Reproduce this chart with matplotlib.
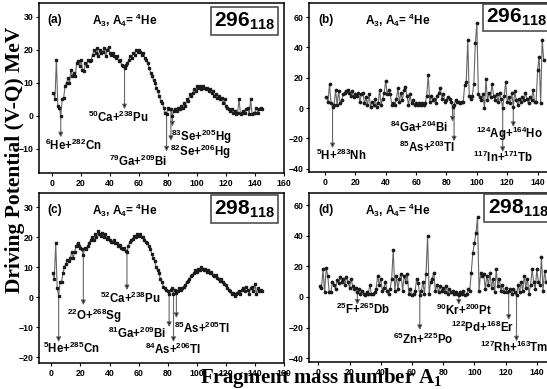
import matplotlib
matplotlib.use('Agg')
import matplotlib.pyplot as plt
import numpy as np

plt.rcParams['font.family'] = ['Liberation Sans', 'DejaVu Sans']
plt.rcParams['font.weight'] = 'bold'
plt.rcParams['mathtext.default'] = 'regular'

# --- data ---
# (a) 296_118
pot_a = [7, 5, 17, 3, 2.5, 0, 5, 5.5, 9, 10, 11.5, 10, 14, 12, 13, 12, 16, 16.5, 15, 17,
         14, 13.5, 16, 15, 17, 16.5, 17, 18.5, 20, 19, 20.5, 18, 20, 19, 19.5, 20.5, 18, 20, 21, 19,
         18.5, 19, 18, 17.5, 18, 16.5, 17, 15.5, 15, 14.5, 15.5, 16, 17, 18, 17.5, 19, 18.5, 20, 19.5, 20,
         19.5, 18.5, 19, 17.5, 17, 16, 14.5, 13, 12, 11, 10, 8.5, 7.5, 6, 4.5, 4, 2.5, 1, 0.5, 2.5,
         2, 2, 0, 1.5, 2, 1.5, 2.5, 2, 3, 2.5, 4, 3, 5, 4.5, 6.5, 6, 7, 8, 7.5, 9,
         8.5, 9, 8, 9, 8.5, 8, 8.5, 7.5, 8, 7, 7.5, 6, 6.5, 5.5, 6, 5, 5.5, 4, 5, 3,
         2.5, 2, 1.5, 2, 1, 1.5, 0.5, 1, 5, 0.5, 1, 1.5, 1, 2, 2.5, 0.5, 5, 0.5, 1, 1,
         2.5, 1, 2, 2.5, 2]
# (b) 296_118
pot_b = [7, 4, 16, 3, 1, 2, 12, 2, 11, 3, 5, 9, 10, 11, 12, 10, 8, 11, 7, 9,
         8, 10, 4, 9, 10, 3, 7, 2, 9, 1, 4, 2, 6, 1, 3, 12, 2, 6, 10, 18,
         9, 12, 9, 2, 3, 2, 6, 13, 4, 10, 5, 12, 14, 8, 2, 9, 3, 5, 2, 3,
         2, 3, 2, 3, 2, 3, 8, 22, 4, 8, 5, 6, 3, 8, 10, 13, 6, 9, 4, 5,
         7, 6, 4, 1, 2, 5, 4, 4, 3, 4, 4, 15, 17, 45, 8, 6, 8, 16, 43, 56,
         9, 7, 5, 9, 0, 19, 5, 10, 7, 16, 8, 5, 9, 4, 10, 6, 0, 8, 17, 4,
         7, 3, 10, 1, 11, 5, 2, 6, 4, 7, 5, 10, 6, 3, 7, 5, 12, 4, 4, 25,
         34, 3, 45, 32]
# (c) 298_118
pot_c = [8, 6, 18, 3, 0.5, 5, 5, 8, 10, 11, 12.5, 12, 13, 15, 13, 15, 17, 18, 17, 16.5,
         16, 14, 16.5, 16, 17, 18, 19, 20, 19, 21, 20, 22, 21, 20.5, 21.5, 20, 21, 19.5, 20, 19,
         18.5, 18.5, 19, 18, 18, 17, 17.5, 16.5, 16, 16.5, 15.5, 15, 17, 18.5, 19, 19.5, 20.5, 20, 21, 20.5,
         21, 20, 20, 19, 18.5, 18, 17, 16, 14.5, 13, 12, 10, 9, 8, 6, 5, 3.5, 3, 2.5, 2,
         1, 2.5, 3, 1, 2.5, 1.5, 2, 3, 2.5, 3, 3.5, 4, 5, 5.5, 6, 7, 7.5, 8, 9, 8.5,
         9.5, 9, 10, 9.5, 9, 9.5, 8.5, 9, 8, 8.5, 7.5, 7, 7.5, 6.5, 6, 5.5, 6, 5, 4.5, 4,
         3, 2.5, 2, 1, 1.5, 0.5, 1, 1.5, 2, 1, 2.5, 3, 2, 3.5, 2.5, 1, 3, 3.5, 2, 4.5,
         1, 3, 2, 2.5, 2]
# (d) 298_118
pot_d = [7, 6, 18, 3, 19, 14, 3, 3, 10, 8, 5, 11, 9, 13, 10, 12, 8, 13, 10, 6,
         12, 7, 5, 6, 3, 5, 2, 4, 2, 1, 3, 2, 8, 2, 2, 3, 5, 14, 8, 12,
         4, 6, 10, 4, 2, 5, 12, 31, 4, 14, 5, 12, 15, 4, 14, 10, 15, 2, 5, 1,
         2, 4, 12, 9, 1, 4, 10, 2, 15, 40, 2, 10, 12, 16, 4, 8, 3, 7, 4, 6,
         3, 7, 2, 5, 3, 4, 2, 3, 2, 1, 3, 2, 4, 1, 2, 5, 4, 16, 29, 35,
         42, 52, 4, 16, 14, 15, 5, 14, 8, 16, 6, 12, 3, 18, 7, 12, 4, 8, 3, 6,
         3, 4, 5, 2, 5, 3, 1, 8, 3, 10, 4, 14, 6, 12, 2, 8, 18, 10, 5, 18,
         10, 8, 26, 4, 17, 10]

# decay channels marked with arrows: (A1, label, arrow tip, label x, label y)
chan_a = [(6, r'$^{6}$He+$^{282}$Cn', -6.5, 15, -8.8),
          (50, r'$^{50}$Ca+$^{238}$Pu', 2.0, 46, -0.6),
          (79, r'$^{79}$Ga+$^{209}$Bi', -10.8, 59, -13.8),
          (82, r'$^{82}$Se+$^{206}$Hg', -7.6, 102, -11.0),
          (83, r'$^{83}$Se+$^{205}$Hg', -3.2, 103, -6.4)]
chan_b = [(5, r'$^{5}$H+$^{283}$Nh', -26.5, 11, -31.5),
          (84, r'$^{84}$Ga+$^{204}$Bi', -9, 62, -13),
          (85, r'$^{85}$As+$^{203}$Tl', -22, 67.5, -26),
          (117, r'$^{117}$In+$^{171}$Tb', -29, 117, -32.5),
          (124, r'$^{124}$Ag+$^{164}$Ho', -12.5, 121.5, -17)]
chan_c = [(5, r'$^{5}$He+$^{285}$Cn', -15, 13.7, -17),
          (22, r'$^{22}$O+$^{268}$Sg', -2.7, 29.5, -6.3),
          (52, r'$^{52}$Ca+$^{238}$Pu', 2.3, 54, -0.3),
          (81, r'$^{81}$Ga+$^{209}$Bi', -10, 59, -12),
          (84, r'$^{84}$As+$^{206}$Tl', -15, 84, -17.3),
          (86, r'$^{85}$As+$^{205}$Tl', -7, 104, -10.3)]
chan_d = [(25, r'$^{25}$F+$^{265}$Db', -5, 28.5, -7.8),
          (65, r'$^{65}$Zn+$^{225}$Po', -21.6, 67, -27.5),
          (90, r'$^{90}$Kr+$^{200}$Pt', -5, 93.5, -9),
          (122, r'$^{122}$Pd+$^{168}$Er', -15, 105, -20),
          (127, r'$^{127}$Rh+$^{163}$Tm', -29, 125.5, -33)]

W, H = 547, 389
fig = plt.figure(figsize=(W / 100, H / 100), dpi=100)


def px_axes(l, r, t, b):
    return fig.add_axes([l / W, 1 - b / H, (r - l) / W, (b - t) / H])


panels = [
    dict(ax=px_axes(39, 284, 3, 173), y=pot_a, chan=chan_a, tag='(a)', nuc='296',
         xlim=(-9, 160), ylim=(-17.3, 34.2), yt=np.arange(-10, 31, 10), mk='s', box=(0.838, 0.893)),
    dict(ax=px_axes(309, 568, 3, 172), y=pot_b, chan=chan_b, tag='(b)', nuc='296',
         xlim=(-10.5, 160), ylim=(-42.2, 69.3), yt=np.arange(-40, 61, 20), mk='o', box=(0.80, 0.915)),
    dict(ax=px_axes(39, 284, 193, 363), y=pot_c, chan=chan_c, tag='(c)', nuc='298',
         xlim=(-8.5, 160), ylim=(-22, 34.7), yt=np.arange(-20, 31, 10), mk='s', box=(0.838, 0.905)),
    dict(ax=px_axes(309, 568, 193, 362), y=pot_d, chan=chan_d, tag='(d)', nuc='298',
         xlim=(-6, 160), ylim=(-42.5, 68), yt=np.arange(-40, 61, 20), mk='o', box=(0.807, 0.91)),
]

for p in panels:
    ax = p['ax']
    vals = p['y']
    a1 = np.arange(1, len(vals) + 1)
    ax.plot(a1, vals, color='0.4', lw=0.8, marker=p['mk'], ms=1.7,
            mfc='0.1', mec='0.1', zorder=3)
    ax.set_xlim(*p['xlim'])
    ax.set_ylim(*p['ylim'])
    ax.set_xticks(np.arange(0, 161, 20))
    ax.set_yticks(p['yt'])
    ax.tick_params(labelsize=6.3, length=2.5, width=0.8, pad=1.5)
    for s in ax.spines.values():
        s.set_linewidth(1.1)

    for x0, lab, tip, lx, ly in p['chan']:
        ax.annotate('', xy=(x0, tip), xytext=(x0, vals[x0 - 1]),
                    arrowprops=dict(arrowstyle='-|>', ec='0.4', fc='k', lw=0.8,
                                    mutation_scale=7, shrinkA=0, shrinkB=0), zorder=2)
        ax.text(lx, ly, lab, ha='center', va='center', fontsize=8.3)

    ax.text(0.035, 0.9, p['tag'], transform=ax.transAxes, fontsize=8.5, va='center')
    ax.text(0.215, 0.9, r'A$_3$, A$_4$= $^4$He', transform=ax.transAxes,
            fontsize=8.5, va='center')
    ax.text(p['box'][0], p['box'][1], p['nuc'] + r'$_{118}$', transform=ax.transAxes,
            fontsize=15, ha='center', va='center',
            bbox=dict(boxstyle='square,pad=0.15', fc='white', ec='0.25', lw=1.1))

fig.text(0.027, 0.589, 'Driving Potential (V-Q) MeV', rotation=90, ha='center', va='center',
         family='Liberation Serif', fontsize=15.5, fontweight='bold')
fig.text(0.587, 0.016, r'Fragment mass number A$_1$', ha='center', va='baseline',
         family='Liberation Serif', fontsize=15, fontweight='bold')

fig.savefig('out.png', dpi=100)
